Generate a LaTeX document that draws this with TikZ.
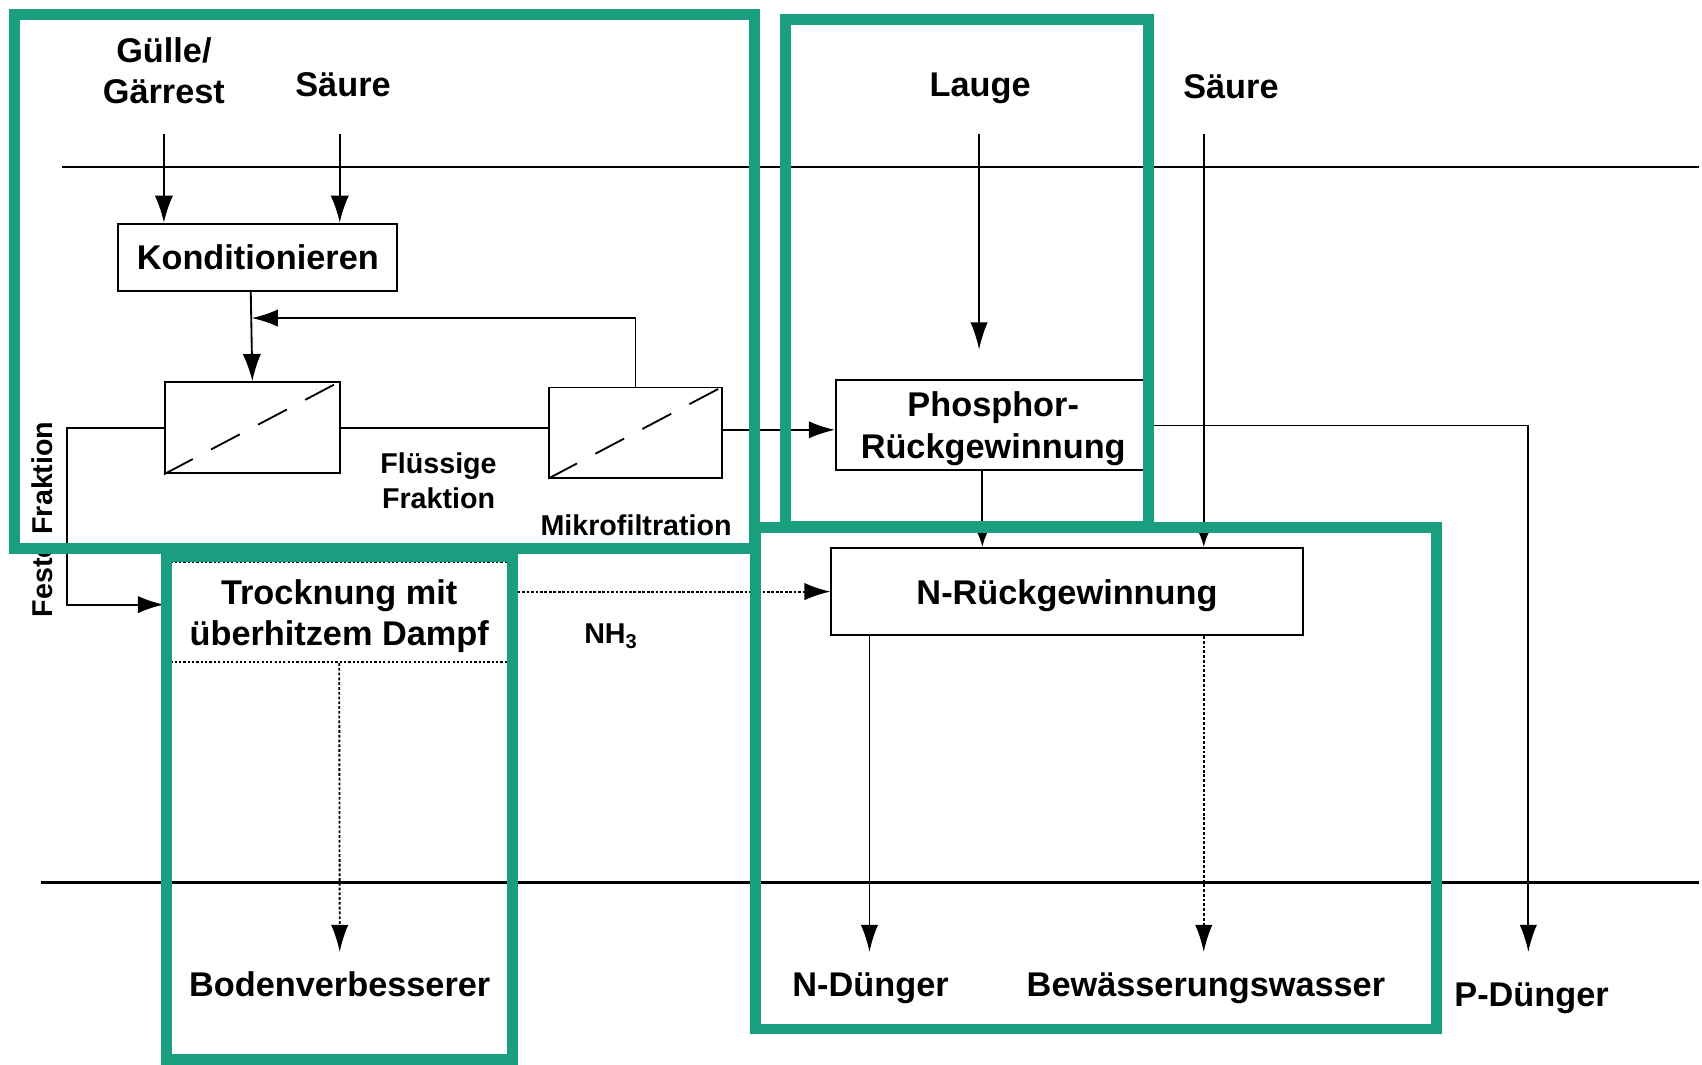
\documentclass[tikz,border=0pt]{standalone}
\usepackage{fontspec}
\setmainfont{Liberation Sans}
\usetikzlibrary{arrows.meta,calc}
\definecolor{frame}{RGB}{25,158,128}
\tikzset{
  bigtxt/.style={font=\bfseries\fontsize{15.8pt}{19pt}\selectfont, align=center, inner sep=0pt},
  smalltxt/.style={font=\bfseries\fontsize{13.2pt}{16pt}\selectfont, align=center, inner sep=0pt},
  procbox/.style={draw, line width=0.9pt, inner sep=0pt, fill=white},
  dotbox/.style={draw, line width=0.9pt, dash pattern=on 1pt off 1pt, inner sep=0pt},
  membr/.style={draw, line width=0.9pt, inner sep=0pt, minimum width=80.5pt, minimum height=42pt},
  conn/.style={line width=0.85pt},
  bigarr/.style={conn, -{Latex[length=12.5pt,width=8.5pt]}},
  midarr/.style={conn, -{Latex[length=12pt,width=8pt]}},
  smallarr/.style={conn, -{Latex[length=7pt,width=5pt]}},
  longarr/.style={conn, -{Latex[length=12.5pt,width=8pt]}},
  dotline/.style={dash pattern=on 1.25pt off 0.8pt},
  dashline/.style={dash pattern=on 1.3pt off 0.9pt},
  greenframe/.style={draw=frame, line width=5pt},
  level/.style={line width=0.95pt}
}
\begin{document}
\begin{tikzpicture}[x=0.5pt,y=-0.5pt]
\useasboundingbox (0,0) rectangle (1568,981);

% level lines
\coordinate (t1) at (57,154);
\coordinate (t2) at (1565,154);
\coordinate (b1) at (38,813);
\coordinate (b2) at (1565,813);
\draw[level] (t1) -- (t2);
\draw[level] (b1) -- (b2);

% input labels
\node[bigtxt] (guelle) at (151,65.5) {Gülle/\\Gärrest};
\node[bigtxt, anchor=base] (saeure1) at (316,89) {Säure};
\node[bigtxt, anchor=base] (lauge) at (903,89) {Lauge};
\node[bigtxt, anchor=base] (saeure2) at (1134,91) {Säure};

% process boxes
\node[procbox, bigtxt, draw, minimum width=128.5pt, minimum height=31pt] (kond) at (237.5,237) {Konditionieren};
\node[membr] (f1) at (232.5,394) {};
\node[membr, minimum width=79.5pt, minimum height=41.5pt] (f2) at (585.5,398.5) {};
\draw[conn, dash pattern=on 15pt off 9.5pt] (f1.south west) -- (f1.north east);
\draw[conn, dash pattern=on 15pt off 9.5pt] (f2.south west) -- (f2.north east);
\node[procbox, bigtxt, draw, text depth=0pt, minimum width=145pt, minimum height=41.5pt] (phos) at (915,391.5) {Phosphor-\\Rückgewinnung};
\node[procbox, bigtxt, draw, text depth=0pt, minimum width=217pt, minimum height=40pt] (nrueck) at (983,545) {N-Rückgewinnung};
\node[dotbox, bigtxt, text depth=0pt, minimum width=159.5pt, minimum height=46pt] (trock) at (312.5,564) {Trocknung mit\\überhitzem Dampf};

% other labels
\node[smalltxt] (fluessig) at (404,442.6) {Flüssige\\Fraktion};
\node[smalltxt, anchor=base] (mikro) at (586,493) {Mikrofiltration};
\node[smalltxt, anchor=base] (nh3) at (563,593) {NH\textsubscript{3}};
\node[smalltxt, anchor=base, rotate=90] (feste) at (48,478.5) {Feste Fraktion};
\node[bigtxt, anchor=base] (boden) at (313,918) {Bodenverbesserer};
\node[bigtxt, anchor=base] (ndung) at (802,918) {N-Dünger};
\node[bigtxt, anchor=base] (bew) at (1111,918) {Bewässerungswasser};
\node[bigtxt, anchor=base] (pdung) at (1411,927) {P-Dünger};

% coordinates for free ends
\coordinate (g1) at (151,123);
\coordinate (s1) at (313,123);
\coordinate (k1) at (231,268);
\coordinate (fb) at (232,293);
\coordinate (p1) at (665,396);
\coordinate (l1) at (902,123);
\coordinate (l2) at (902,322);
\coordinate (s2) at (1109,123);
\coordinate (p2) at (905,433);
\coordinate (p3) at (1060,392);
\coordinate (pd) at (1408,877);
\coordinate (nd) at (801,877);
\coordinate (bw) at (1109,877);
\coordinate (bd) at (313,877);
\coordinate (fa) at (62,557);
\coordinate (fe) at (151,557);

% connectors
\draw[bigarr] (g1) -- (g1 |- kond.north);
\draw[bigarr] (s1) -- (s1 |- kond.north);
\draw[bigarr] (k1) -- (f1.north);
\draw[midarr] (f2.north) |- (fb);
\draw[conn] (f1.east) -- (f1.east -| f2.west);
\draw[midarr] (p1) -- (p1 -| phos.west);
\draw[longarr] (l1) -- (l2);
\draw[smallarr] (s2) -- (s2 |- nrueck.north);
\draw[smallarr] (p2) -- (p2 |- nrueck.north);
\draw[longarr] (p3) -| (pd);
\draw[longarr] (nd |- nrueck.south) -- (nd);
\draw[longarr, dashline] (bw |- nrueck.south) -- (bw);
\draw[longarr, dashline] (trock.south) -- (bd);
\draw[midarr, dotline] (nrueck.west -| trock.east) -- (nrueck.west);
\draw[midarr] (f1.west) -| (fa) -- (fe);

% green frames
\draw[greenframe] (13,13) rectangle (695,505);
\draw[greenframe] (724,18) rectangle (1058,485);
\draw[greenframe] (696,486) rectangle (1323,948);
\draw[greenframe] (153,513) rectangle (472,976);
\end{tikzpicture}
\end{document}
